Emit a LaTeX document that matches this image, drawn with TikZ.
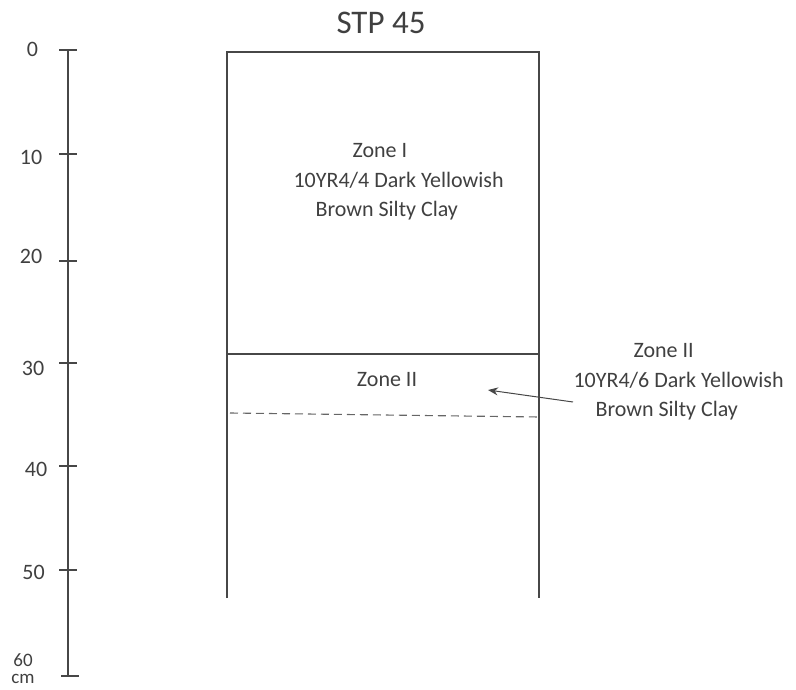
\documentclass[tikz,border=0pt]{standalone}
\usepackage{fontspec}
\setmainfont{Carlito}
\usetikzlibrary{positioning, arrows.meta}
\colorlet{inkgray}{black!72}
\tikzset{every node/.append style={text=black!75, inner sep=0pt}}

\begin{document}
\begin{tikzpicture}[x=1pt, y=-1pt, line width=1.1pt, draw=inkgray,
    font=\fontsize{22}{29.5}\selectfont]
  \useasboundingbox (0,0) rectangle (796,690);
  % depth scale, tick and label per 10 cm
  \draw (68,50) -- (68,676);
  \foreach \dd/\yy/\xl/\yl in {0/50/32.5/57, 10/154/31/165, 20/261/31/263,
    30/363/33/375, 40/466/36/476, 50/570/33.5/579}
  { \draw (59,\yy) -- (77,\yy);
    \node[anchor=base] (depth\dd) at (\xl,\yl) {\dd}; }
  \draw (61,676) -- (79,676);
  \node[anchor=north, align=center, font=\fontsize{19}{17.5}\selectfont]
    (depth60) at (23,653) {60\\cm};
  % test pit profile
  \node[anchor=base, font=\fontsize{33}{40}\selectfont] (title) at (381,34) {STP 45};
  \draw (227,598) -- (227,52) -- (539,52) -- (539,598);
  \draw (227,354) -- (539,354);
  \draw[dashed, dash pattern=on 8pt off 5pt, black!60] (230,413) -- (539,417);
  \node[anchor=north west, align=left] (zoneone) at (293,143)
    {\hspace*{59pt}Zone I\\10YR4/4 Dark Yellowish\\\hspace*{22pt}Brown Silty Clay};
  \node[anchor=base] (zonetwo) at (387,386) {Zone II};
  % note for zone II
  \node[anchor=north west, align=left] (zonetwonote) at (573,343)
    {\hspace*{60pt}Zone II\\10YR4/6 Dark Yellowish\\\hspace*{22pt}Brown Silty Clay};
  \coordinate (tail) at (573,402);
  \coordinate (tip) at (488,390);
  \draw[-{Stealth[length=10pt, width=8pt]}, line width=1pt] (tail) -- (tip);
\end{tikzpicture}
\end{document}
